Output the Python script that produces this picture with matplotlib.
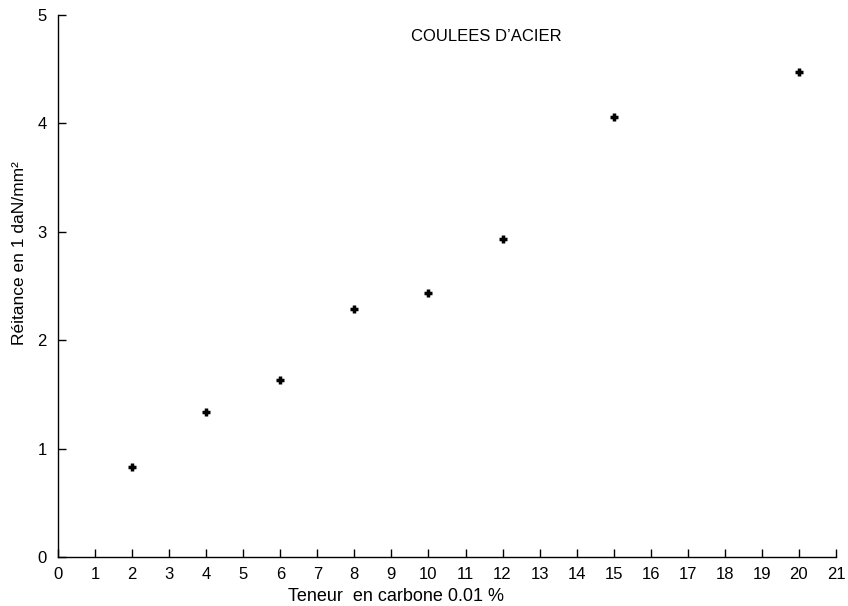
import matplotlib
matplotlib.use("Agg")
import matplotlib.pyplot as plt

plt.rcParams['font.family'] = ['Liberation Sans', 'DejaVu Sans']

# Teneur en carbone (0.01 %) et résistance (daN/mm²)
carbone = [2, 4, 6, 8, 10, 12, 15, 20]
resistance = [0.83, 1.34, 1.63, 2.29, 2.44, 2.93, 4.06, 4.47]
xticks = list(range(0, 22))
yticks = [0, 1, 2, 3, 4, 5]

fig = plt.figure(figsize=(8.48, 6.06), dpi=100)
ax = fig.add_axes([0.0684, 0.0809, 0.9174, 0.8943])

ax.plot(carbone, resistance, linestyle="none", marker="+", markersize=6,
        color="black", markeredgewidth=2.5)

ax.set_xlim(0, 21)
ax.set_ylim(0, 5)
ax.set_xticks(xticks)
ax.set_yticks(yticks)
ax.tick_params(direction="in", length=6, width=1, labelsize=12, colors="black")
ax.tick_params(axis="x", pad=7)
ax.tick_params(axis="y", pad=8)

for side in ["top", "right"]:
    ax.spines[side].set_visible(False)
for side in ["left", "bottom"]:
    ax.spines[side].set_linewidth(1)

ax.set_xlabel("Teneur  en carbone 0.01 %", fontsize=13)
ax.xaxis.set_label_coords(0.434, -0.057)
ax.set_ylabel("Réitance en 1 daN/mm²", fontsize=12.5)
ax.yaxis.set_label_coords(-0.04, 0.56)
ax.text(0.55, 0.975, "COULEES D\u2019ACIER", transform=ax.transAxes,
        ha="center", va="top", fontsize=12)

fig.savefig("out.png", dpi=100)
